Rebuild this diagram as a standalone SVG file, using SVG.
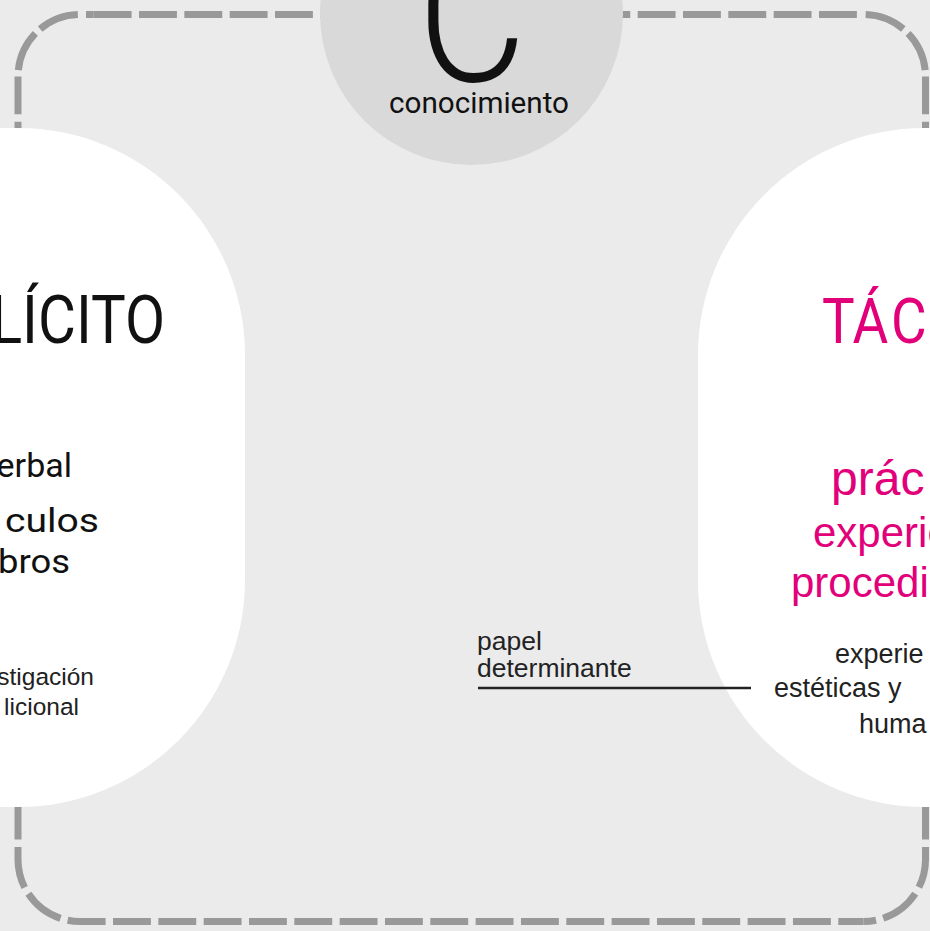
<svg xmlns="http://www.w3.org/2000/svg" width="930" height="931" viewBox="0 0 930 931">
<style>
.bg{fill:#ebebeb}
.dash{fill:none;stroke:#999;stroke-width:7;stroke-linecap:butt}
.dashed{stroke-dasharray:37.9 7.43}
.pill{fill:#fff}
.hub{fill:#d9d9d9}
.din{font-family:Roboto,"DejaVu Sans",sans-serif;fill:#111}
.ar{font-family:"Liberation Sans",Arial,sans-serif;fill:#222}
.mag{fill:#e2007a}
.lead{stroke:#222;stroke-width:2.5;fill:none}
</style>
<rect class="bg" width="930" height="931"/>
<g id="border">
  <path class="dash dashed" d="M93.7,14.5 H857"/>
  <path class="dash dashed" d="M113,921.5 H863.5"/>
  <path class="dash dashed" d="M18,839.6 V76.5"/>
  <path class="dash dashed" d="M925.5,839.6 V76.5"/>
  <path class="dash" d="M86,14.5 H93.7
    M18.34,70.02 A62,62 0 0 1 35.40,33.43
    M40.15,29.01 A62,62 0 0 1 77.84,14.54
    M865.66,14.54 A62,62 0 0 1 903.35,29.01
    M908.10,33.43 A62,62 0 0 1 925.16,70.02
    M863.5,921.5 A62,62 0 0 0 876.07,920.21
    M883.17,918.30 A62,62 0 0 0 915.26,893.63
    M918.94,887.26 A62,62 0 0 0 925.5,859.5 V847
    M105.6,921.5 H80 A62,62 0 0 1 67.64,920.25
    M60.53,918.36 A62,62 0 0 1 28.36,893.81
    M24.66,887.46 A62,62 0 0 1 18,859.5 V847"/>
</g>
<g id="explicito">
  <rect class="pill" x="-300" y="128" width="545" height="679" rx="227" ry="227"/>
  <text class="din" font-size="67" text-anchor="end" transform="translate(165,343) scale(0.87,1)">LÍCITO</text>
  <text class="din" font-size="34" text-anchor="end" x="72" y="477">erbal</text>
  <text class="din" font-size="34" text-anchor="end" x="99" y="532" textLength="94" lengthAdjust="spacingAndGlyphs">culos</text>
  <text class="din" font-size="34" text-anchor="end" x="70" y="573" textLength="72" lengthAdjust="spacingAndGlyphs">bros</text>
  <text class="ar" font-size="24.5" text-anchor="end" x="94" y="685">stigación</text>
  <text class="ar" font-size="24.5" text-anchor="end" x="79" y="715">licional</text>
</g>
<g id="tacito">
  <rect class="pill" x="698" y="128" width="545" height="679" rx="227" ry="227"/>
  <text class="din mag" font-size="63" transform="translate(822,343) scale(0.87,1)">TÁ<tspan dx="3">C</tspan></text>
  <text class="ar mag" font-size="48" x="831" y="495">prác</text>
  <text class="ar mag" font-size="42" x="813" y="547">experie</text>
  <text class="ar mag" font-size="42" x="791" y="597">procedi</text>
  <text class="ar" font-size="27" x="835" y="663">experie</text>
  <text class="ar" font-size="27" x="774" y="697">estéticas y</text>
  <text class="ar" font-size="27" x="859" y="733">huma</text>
</g>
<g id="conocimiento">
  <circle class="hub" cx="471.5" cy="13.5" r="151.5"/>
  <text class="din" font-size="193" font-weight="300" text-anchor="middle" transform="translate(472,81) scale(0.87,1)">C</text>
  <text class="din" font-size="29.5" text-anchor="middle" x="479" y="112.5" textLength="180" lengthAdjust="spacingAndGlyphs">conocimiento</text>
</g>
<g id="connectors">
  <line class="lead" x1="478" y1="688" x2="751" y2="688"/>
  <text class="ar" font-size="26.5" x="477" y="650">papel</text>
  <text class="ar" font-size="26.5" x="477" y="677">determinante</text>
</g>
</svg>
